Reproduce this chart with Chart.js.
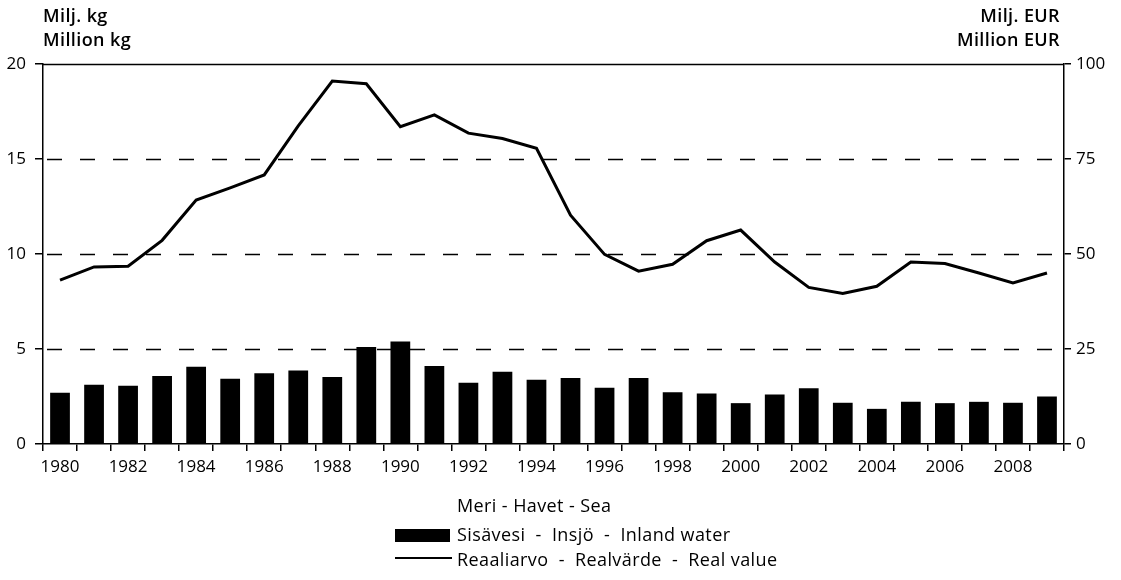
<!DOCTYPE html>
<html>
<head>
<meta charset="utf-8">
<script src="https://cdn.jsdelivr.net/npm/chart.js@4"></script>
<style>
  body { margin: 0; background: #fff; }
  #wrap { position: relative; width: 1121px; height: 580px; font-family: "Open Sans", sans-serif; color: #000; }
  #chart { position: absolute; left: 0; top: 0; }
  .txt { position: absolute; font-size: 18px; font-weight: 600; line-height: 24px; letter-spacing: 0.4px; white-space: nowrap; }
  .leg { position: absolute; left: 457px; font-size: 18px; line-height: 20px; letter-spacing: 0.4px; white-space: nowrap; }
</style>
</head>
<body>
<div id="wrap">
  <canvas id="chart" width="1121" height="580"></canvas>
  <div class="txt" style="left:43px; top:3px;">Milj. kg<br>Million kg</div>
  <div class="txt" style="right:61px; top:3px; text-align:right;">Milj. EUR<br>Million EUR</div>

  <div class="leg" style="top:495px;">Meri - Havet - Sea</div>
  <div style="position:absolute; left:395px; top:529px; width:55px; height:13px; background:#000;"></div>
  <div class="leg" style="top:524px;">Sisävesi &nbsp;- &nbsp;Insjö &nbsp;- &nbsp;Inland water</div>
  <div style="position:absolute; left:395px; top:557px; width:57px; height:2px; background:#000;"></div>
  <div class="leg" style="top:549px;">Reaaliarvo &nbsp;- &nbsp;Realvärde &nbsp;- &nbsp;Real value</div>
</div>
<script>
const years = ['1980','1981','1982','1983','1984','1985','1986','1987','1988','1989',
               '1990','1991','1992','1993','1994','1995','1996','1997','1998','1999',
               '2000','2001','2002','2003','2004','2005','2006','2007','2008','2009'];

// Sisävesi - Insjö - Inland water, million kg
const inlandWater = [2.70, 3.12, 3.07, 3.58, 4.07, 3.44, 3.73, 3.87, 3.52, 5.10,
                     5.40, 4.10, 3.22, 3.80, 3.38, 3.47, 2.96, 3.47, 2.73, 2.66,
                     2.15, 2.61, 2.93, 2.17, 1.85, 2.22, 2.15, 2.22, 2.17, 2.50];

// Reaaliarvo - Realvärde - Real value, million EUR
const realValue = [43.1, 46.6, 46.8, 53.6, 64.2, 67.4, 70.8, 83.7, 95.5, 94.8,
                   83.5, 86.6, 81.8, 80.4, 77.8, 60.2, 49.9, 45.5, 47.3, 53.5,
                   56.3, 47.9, 41.2, 39.6, 41.5, 47.9, 47.5, 45.0, 42.4, 45.0];

const kgTicks = [0, 5, 10, 15, 20];
const eurTicks = [0, 25, 50, 75, 100];

const tickFont = { family: 'Open Sans', size: 17 };

// dashed horizontal guide lines, solid line on top
const gridLines = {
  id: 'gridLines',
  beforeDatasetsDraw(chart) {
    const { ctx, chartArea, scales } = chart;
    ctx.save();
    ctx.strokeStyle = '#000';
    ctx.lineWidth = 1.5;
    kgTicks.slice(1).forEach(v => {
      const y = Math.round(scales.y.getPixelForValue(v)) + 0.5;
      ctx.setLineDash(v === 20 ? [] : [15, 18]);
      ctx.lineDashOffset = -4;
      ctx.beginPath();
      ctx.moveTo(chartArea.left, y);
      ctx.lineTo(chartArea.right, y);
      ctx.stroke();
    });
    ctx.restore();
  }
};

new Chart(document.getElementById('chart'), {
  data: {
    labels: years,
    datasets: [
      {
        type: 'line',
        label: 'Reaaliarvo - Realvärde - Real value',
        data: realValue,
        yAxisID: 'y1',
        borderColor: '#000',
        borderWidth: 3,
        pointRadius: 0,
        tension: 0,
        order: 0
      },
      {
        type: 'bar',
        label: 'Sisävesi - Insjö - Inland water',
        data: inlandWater,
        yAxisID: 'y',
        backgroundColor: '#000',
        barPercentage: 0.58,
        categoryPercentage: 1.0,
        order: 1
      }
    ]
  },
  options: {
    responsive: false,
    animation: false,
    layout: { padding: { top: 64, bottom: 96, left: 0, right: 0 } },
    plugins: {
      legend: { display: false },
      tooltip: { enabled: false }
    },
    scales: {
      x: {
        offset: true,
        grid: { offset: true, drawOnChartArea: false, tickLength: 7, color: '#000', lineWidth: 1.5 },
        border: { color: '#000', width: 1.5 },
        ticks: {
          autoSkip: false, maxRotation: 0, color: '#000', font: tickFont, padding: 6,
          callback: (v, i) => (i % 2 === 0 ? years[i] : '')
        },
        afterFit: s => { s.height = 40; }
      },
      y: {
        position: 'left',
        min: 0, max: 20,
        afterBuildTicks: s => { s.ticks = kgTicks.map(v => ({ value: v })); },
        grid: { drawOnChartArea: false, tickLength: 8, color: '#000', lineWidth: 1.5 },
        border: { color: '#000', width: 1.5 },
        ticks: { color: '#000', font: tickFont, padding: 9 },
        afterFit: s => { s.width = 43; }
      },
      y1: {
        position: 'right',
        min: 0, max: 100,
        afterBuildTicks: s => { s.ticks = eurTicks.map(v => ({ value: v })); },
        grid: { drawOnChartArea: false, tickLength: 7, color: '#000', lineWidth: 1.5 },
        border: { color: '#000', width: 1.5 },
        ticks: { color: '#000', font: tickFont, padding: 5 },
        afterFit: s => { s.width = 57; }
      }
    }
  },
  plugins: [gridLines]
});
</script>
</body>
</html>
